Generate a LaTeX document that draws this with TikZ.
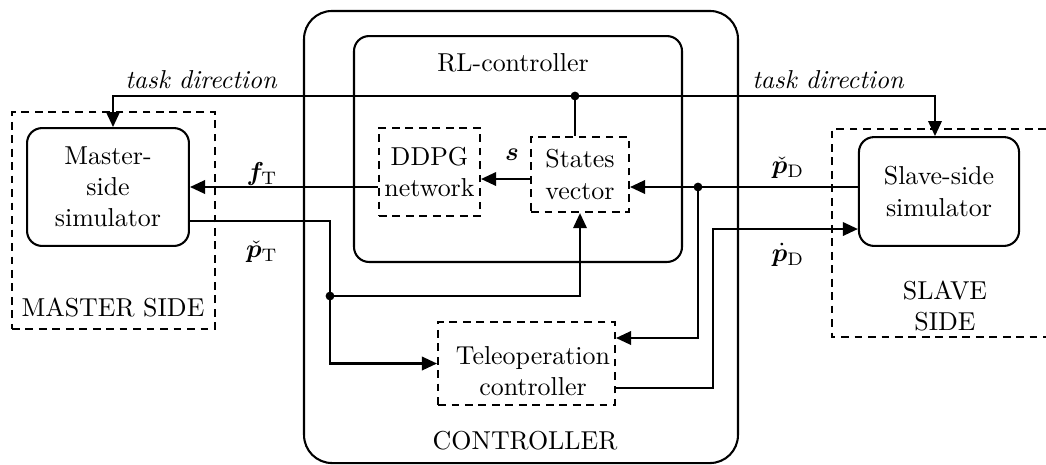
\documentclass[tikz,border=0pt]{standalone}
\usepackage{bm}
\usetikzlibrary{arrows.meta}
\begin{document}
\begin{tikzpicture}[x=0.386pt,y=-0.386pt,
  wire/.style={line width=0.8pt},
  arr/.style={line width=0.8pt,-{Triangle[length=5.8pt,width=5.2pt]}},
  simbox/.style={draw,line width=0.8pt,rounded corners=5.8pt,align=center,inner sep=0pt},
  dbox/.style={draw,line width=0.8pt,dash pattern=on 3pt off 2.2pt,inner sep=0pt,align=center},
  dashline/.style={line width=0.8pt,dash pattern=on 3pt off 2.2pt},
  txt/.style={inner sep=0pt,align=center},
  jdot/.style={circle,fill,inner sep=0pt,minimum size=3.4pt}]
\useasboundingbox (0,0) rectangle (1046,464);

% containers
\node[draw,line width=0.8pt,rounded corners=10.8pt,minimum width=167.5pt,minimum height=174.5pt] (ctrl) at (521,237) {};
\node[draw,line width=0.8pt,rounded corners=5.8pt,minimum width=126.6pt,minimum height=87.2pt] (rl) at (518,149) {};
\node[dbox,minimum width=78.4pt,minimum height=83.8pt] (mside) at (113.5,220.5) {};
\draw[dashline] (1046,129) -- (832,129) -- (832,337) -- (1046,337);

% container labels
\node[txt] (ctrltxt) at (525,441) {CONTROLLER};
\node[txt] (rltxt) at (513,63) {RL-controller};
\node[txt] (msidetxt) at (113,307) {MASTER SIDE};
\node[txt] (ssidetxt) at (945,306) {SLAVE\\SIDE};

% blocks
\node[simbox,minimum width=62.5pt,minimum height=45.5pt] (master) at (108,187) {Master-\\side\\simulator};
\node[simbox,minimum width=61.8pt,minimum height=42pt] (slave) at (939,191.5) {Slave-side\\simulator};
\node[dbox,minimum width=39pt,minimum height=34pt] (ddpg) at (429.5,172) {DDPG\\network};
\node[dbox,minimum width=37.8pt,minimum height=29pt] (states) at (580,174.5) {States\\vector};
\node[dbox,minimum width=68.3pt,minimum height=32pt] (teleop) at (526.5,363.5) {};
\node[txt] (teleoptxt) at (533,371) {Teleoperation\\controller};

% routing points
\coordinate (tdL) at (113,96);
\coordinate (tdR) at (935,96);
\coordinate (yF) at (0,187);
\coordinate (yP) at (0,221);
\coordinate (yS) at (0,179);
\coordinate (yE) at (0,338);
\coordinate (yO) at (0,388);
\coordinate (cO) at (713,229);
\node[jdot] (jtask) at (575,96) {};
\node[jdot] (jT) at (330,296) {};
\node[jdot] (jD) at (698,187) {};

% task direction
\draw[wire] (jtask.center) -- (jtask.center |- states.north);
\draw[arr] (jtask.center) -- (tdL) -- (master.north -| tdL);
\draw[arr] (jtask.center) -- (tdR) -- (slave.north -| tdR);
\node[txt,font=\itshape] (tdLtxt) at (201,80) {task direction};
\node[txt,font=\itshape] (tdRtxt) at (828,80) {task direction};

% force command to master
\draw[arr] (ddpg.west |- yF) -- (master.east |- yF);
\node[txt] (fT) at (262,174) {$\bm{f}_{\mathrm{T}}$};

% master position
\draw[arr] (master.east |- yP) -| (jT.center) |- (teleop.west);
\draw[arr] (jT.center) -| (states.south);
\node[txt] (pT) at (262,252) {$\check{\bm{p}}_{\mathrm{T}}$};

% states to network
\draw[arr] (states.west |- yS) -- (ddpg.east |- yS);
\node[txt] (s) at (512,155) {$\bm{s}$};

% slave position
\draw[arr] (slave.west |- yF) -- (states.east |- yF);
\draw[arr] (jD.center) |- (teleop.east |- yE);
\node[txt] (pD) at (788,168) {$\check{\bm{p}}_{\mathrm{D}}$};

% velocity command to slave
\draw[arr] (teleop.east |- yO) -| (cO) -- (slave.west |- cO);
\node[txt] (vD) at (788,255) {$\dot{\bm{p}}_{\mathrm{D}}$};
\end{tikzpicture}
\end{document}
